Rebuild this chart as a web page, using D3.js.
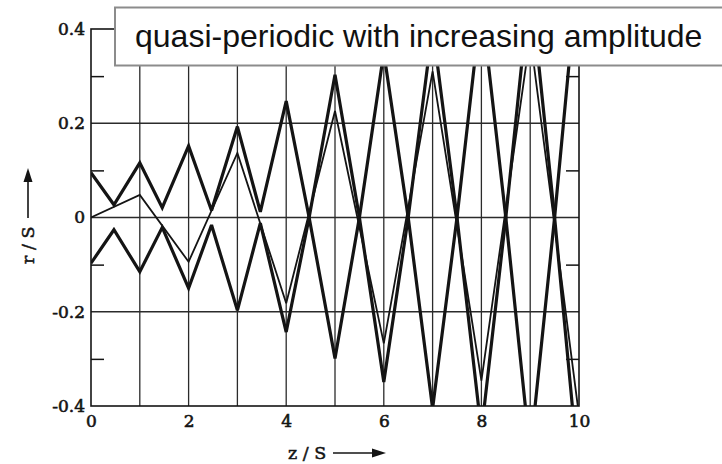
<!DOCTYPE html>
<html><head><meta charset="utf-8">
<script src="https://cdn.jsdelivr.net/npm/d3@7"></script>
<style>html,body{margin:0;padding:0;background:#fff;} svg{display:block}</style>
</head><body>
<svg id="c" width="722" height="464"></svg>
<script>
// ---- data ----
const titleText = "quasi-periodic with increasing amplitude";
const xTitle = "z / S";
const yTitle = "r / S";
const xTickValues = [0, 2, 4, 6, 8, 10];
const xTickLabels = ["0", "2", "4", "6", "8", "10"];
const yTickValues = [0.4, 0.2, 0, -0.2, -0.4];
const yTickLabels = ["0.4", "0.2", "0", "-0.2", "-0.4"];
const xGridValues = [1, 2, 3, 4, 5, 6, 7, 8, 9];
const yGridValues = [0.2, 0, -0.2];
const yMinorTicks = [0.3, 0.1, -0.1, -0.3];

// thick trajectories (kinks at lens positions)
const zThick  = [0, 0.47, 1, 1.46, 2, 2.47, 3, 3.47, 4, 4.47, 5, 5.5, 6, 6.5, 7, 7.5, 8, 8.5, 9, 9.5, 10];
const rThickA = [0.095, 0.027, 0.116, 0.021, 0.152, 0.015, 0.193, 0.012, 0.247, 0.0, -0.299, 0.0, 0.35, 0.0, -0.405, 0.0, 0.455, 0.0, -0.50, 0.0, 0.55];
const rThickB = [-0.097, -0.026, -0.115, -0.021, -0.150, -0.016, -0.197, -0.012, -0.243, 0.0, 0.303, 0.0, -0.349, 0.0, 0.405, 0.0, -0.455, 0.0, 0.50, 0.0, -0.55];
// thin trajectory
const zThin = [0, 1, 2, 3, 4, 5, 6, 7, 8, 9, 10];
const rThin = [0, 0.048, -0.094, 0.137, -0.182, 0.226, -0.267, 0.31, -0.346, 0.385, -0.42];

// ---- chart ----
const svg = d3.select("#c");
const x = d3.scaleLinear().domain([0, 10]).range([91, 579]);
const y = d3.scaleLinear().domain([-0.4, 0.4]).range([406, 29]);
const ink = "#141414";

svg.append("rect").attr("width", 722).attr("height", 464).attr("fill", "#fff");

svg.append("defs").append("clipPath").attr("id", "plot")
  .append("rect").attr("x", x(0)).attr("y", y(0.4))
  .attr("width", x(10) - x(0)).attr("height", y(-0.4) - y(0.4));

// grid
const grid = svg.append("g").attr("stroke", "#2b2b2b").attr("stroke-width", 1.3);
grid.selectAll("line.v").data(xGridValues).join("line").attr("class", "v")
  .attr("x1", d => x(d)).attr("x2", d => x(d)).attr("y1", y(0.4)).attr("y2", y(-0.4));
grid.selectAll("line.h").data(yGridValues).join("line").attr("class", "h")
  .attr("x1", x(0)).attr("x2", x(10)).attr("y1", d => y(d)).attr("y2", d => y(d));

// curves
const line = d3.line().x(d => x(d[0])).y(d => y(d[1]));
const curves = svg.append("g").attr("clip-path", "url(#plot)").attr("fill", "none")
  .attr("stroke", ink).attr("stroke-linejoin", "miter").attr("stroke-miterlimit", 3);
curves.append("path").datum(d3.zip(zThin, rThin)).attr("d", line).attr("stroke-width", 1.8);
curves.append("path").datum(d3.zip(zThick, rThickA)).attr("d", line).attr("stroke-width", 3.2);
curves.append("path").datum(d3.zip(zThick, rThickB)).attr("d", line).attr("stroke-width", 3.2);

// frame
svg.append("rect").attr("x", x(0)).attr("y", y(0.4))
  .attr("width", x(10) - x(0)).attr("height", y(-0.4) - y(0.4))
  .attr("fill", "none").attr("stroke", ink).attr("stroke-width", 1.6);

// minor inward ticks
const minorL = svg.append("g").attr("transform", `translate(${x(0)},0)`)
  .call(d3.axisLeft(y).tickValues(yMinorTicks).tickSize(-13).tickFormat(""));
const minorR = svg.append("g").attr("transform", `translate(${x(10)},0)`)
  .call(d3.axisRight(y).tickValues(yMinorTicks).tickSize(-13).tickFormat(""));
[minorL, minorR].forEach(g => {
  g.select(".domain").remove();
  g.selectAll("line").attr("stroke", ink).attr("stroke-width", 1.5);
});

// tick labels
const fontSerif = "'DejaVu Serif', 'Liberation Serif', serif";
const yAx = svg.append("g").attr("transform", `translate(${x(0)},0)`)
  .call(d3.axisLeft(y).tickValues(yTickValues).tickFormat((d, i) => yTickLabels[i]).tickSize(0).tickPadding(6));
const xAx = svg.append("g").attr("transform", `translate(0,${y(-0.4)})`)
  .call(d3.axisBottom(x).tickValues(xTickValues).tickFormat((d, i) => xTickLabels[i]).tickSize(0).tickPadding(9));
[yAx, xAx].forEach(g => {
  g.select(".domain").remove();
  g.selectAll("text").attr("font-family", fontSerif).attr("font-size", 17).attr("fill", ink)
    .attr("stroke", ink).attr("stroke-width", 0.6);
});

// axis titles with arrows
const xt = svg.append("g").attr("transform", "translate(288,459)");
xt.append("text").text(xTitle).attr("font-family", fontSerif).attr("font-size", 17.5).attr("fill", ink)
  .attr("stroke", ink).attr("stroke-width", 0.5);
xt.append("line").attr("x1", 45).attr("x2", 84).attr("y1", -6).attr("y2", -6).attr("stroke", ink).attr("stroke-width", 1.6);
xt.append("path").attr("d", "M84,-10.5 L98,-6 L84,-1.5 Z").attr("fill", ink);

const yt = svg.append("g").attr("transform", "translate(34,264) rotate(-90)");
yt.append("text").text(yTitle).attr("font-family", fontSerif).attr("font-size", 17.5).attr("fill", ink)
  .attr("stroke", ink).attr("stroke-width", 0.5);
yt.append("line").attr("x1", 46).attr("x2", 82).attr("y1", -6).attr("y2", -6).attr("stroke", ink).attr("stroke-width", 1.6);
yt.append("path").attr("d", "M82,-10.5 L96,-6 L82,-1.5 Z").attr("fill", ink);

// title box
svg.append("rect").attr("x", 115).attr("y", 7.5).attr("width", 620).attr("height", 58)
  .attr("fill", "#fff").attr("stroke", "#8c8c8c").attr("stroke-width", 2);
svg.append("text").text(titleText).attr("x", 135).attr("y", 47)
  .attr("font-family", "'Liberation Sans', Arial, Helvetica, sans-serif")
  .attr("font-size", 32).attr("fill", "#111");
</script>
</body></html>
